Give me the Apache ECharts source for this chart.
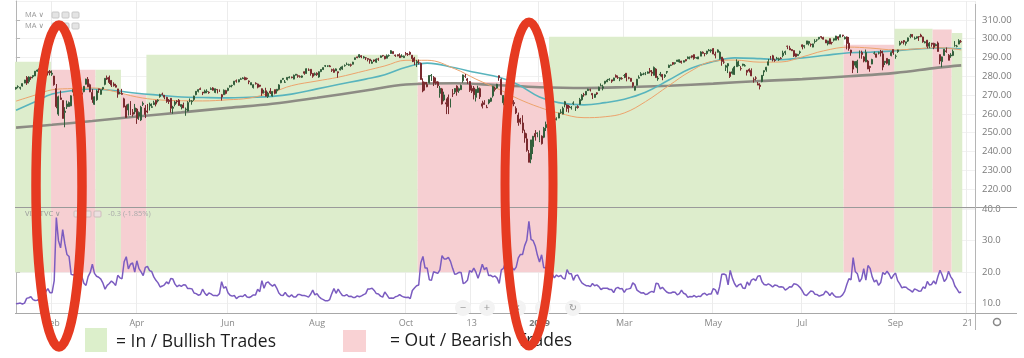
<!DOCTYPE html>
<html><head><meta charset="utf-8">
<script src="https://cdn.jsdelivr.net/npm/echarts@6/dist/echarts.min.js"></script>
<style>html,body{margin:0;padding:0;background:#fff}#c{width:1024px;height:358px}</style>
</head><body><div id="c"></div>
<script>
// ---------- calendar (trading days) ----------
const calendarStart = '2018-01-08', calendarEnd = '2019-10-24';
const holidays = ['2018-01-15','2018-02-19','2018-03-30','2018-05-28','2018-07-04','2018-09-03','2018-11-22','2018-12-05','2018-12-25','2019-01-01','2019-01-21','2019-02-18','2019-04-19','2019-05-27','2019-07-04','2019-09-02'];
function tradingDays(start, end, skip){
  const out=[]; const d=new Date(start+'T00:00:00Z'); const e=new Date(end+'T00:00:00Z');
  while(d<=e){ const wd=d.getUTCDay(); const s=d.toISOString().slice(0,10);
    if(wd!==0&&wd!==6&&skip.indexOf(s)<0) out.push(s);
    d.setUTCDate(d.getUTCDate()+1); }
  return out;
}
const categories = tradingDays(calendarStart, calendarEnd, holidays);

// ---------- tick labels ----------
const tickLabels = [['2018-02-01','Feb'],['2018-04-02','Apr'],['2018-06-01','Jun'],['2018-08-01','Aug'],['2018-10-01','Oct'],['2018-11-13','13'],['2019-01-02','2019'],['2019-03-01','Mar'],['2019-05-01','May'],['2019-07-01','Jul'],['2019-09-03','Sep'],['2019-10-21','21']];

// ---------- price candles [open, close, low, high] ----------
const candles2018 = [
[273.3,274.1,272.9,274.3],[274.4,274.5,273.6,275.2],[273.7,274.1,272.9,274.4],[274.8,276.1,274.5,276.2],[276.4,278.0,276.3,278.1],[279.4,276.4,275.4,280.1],[277.2,279.6,276.2,280.0],[279.5,279.1,278.1,279.8],[279.8,280.4,278.9,280.4],[280.2,282.7,280.1,282.7],[282.7,283.3,282.4,283.6],[284.0,283.2,281.3,284.7],[284.2,283.3,282.6,284.3],[284.3,286.6,283.9,286.6],[285.9,284.7,284.5,286.4],[282.6,281.8,280.4,283.0],[282.7,281.9,280.5,283.3],
[281.1,281.6,280.2,283.1],[280.1,275.5,275.0,280.2],[273.5,263.9,263.0,275.9],[259.9,269.1,259.0,269.7],[268.5,267.7,267.6,272.4],[267.1,257.6,257.6,267.2],[260.8,261.5,252.9,263.6],[263.8,265.3,262.6,267.1],[263.9,266.0,263.8,266.6],[264.3,269.6,264.1,269.9],[271.6,273.0,269.7,273.0],[272.3,273.1,272.3,275.3],[272.0,271.4,270.6,274.0],[271.9,270.1,270.0,275.0],[271.1,270.4,269.3,273.1],[271.8,274.7,271.5,274.7],[275.8,278.5,275.6,278.7],[278.4,274.4,274.4,279.6],[275.5,271.7,271.6,276.1],
[271.4,267.7,265.9,273.2],[265.1,269.1,264.8,269.3],[267.5,272.2,267.0,272.9],[273.3,272.9,271.2,273.4],[270.4,272.8,270.2,273.0],[273.3,274.1,272.6,274.2],[275.7,278.9,275.2,278.9],[279.2,278.5,278.0,280.4],[279.5,276.7,275.9,280.4],[277.8,275.3,274.3,278.0],[275.9,275.0,274.5,276.8],[275.1,274.2,274.1,276.0],[273.3,270.5,268.6,273.3],[270.9,270.9,270.4,271.7],[270.9,270.4,270.2,273.3],[268.0,263.7,263.4,268.6],[264.2,258.1,258.1,265.0],[262.1,265.1,259.1,265.4],[266.2,260.6,259.4,266.8],[260.8,259.8,258.6,262.6],[261.1,263.2,259.8,265.3],
[262.6,257.5,254.7,263.1],[258.9,260.8,256.8,261.3],[256.8,263.6,256.2,264.3],[265.1,265.6,264.2,266.6],[263.1,259.7,257.8,264.7],[261.6,261.0,260.3,265.3],[264.3,265.2,261.8,266.0],[263.5,263.8,263.2,265.6],[265.0,265.9,264.7,267.0],[267.1,265.2,264.0,267.4],[266.9,267.3,266.1,267.8],[269.2,270.2,268.6,270.7],[270.5,270.4,269.8,271.3],[269.9,268.9,267.8,270.0],[268.8,266.6,265.9,269.1],[267.3,266.6,265.3,267.9],[268.3,263.0,260.7,268.4],[263.0,263.6,260.1,264.3],[265.0,266.3,264.0,267.0],[266.8,266.6,265.5,267.3],[267.3,264.5,264.4,267.9],
[263.9,265.0,262.4,265.1],[264.8,263.2,263.1,266.0],[262.3,262.6,259.0,263.4],[261.5,266.0,261.3,266.8],[266.9,266.9,266.2,268.2],[266.5,266.9,264.9,267.4],[267.7,269.5,266.9,269.7],[270.2,272.0,269.9,272.1],[272.0,272.9,271.4,273.1],[273.4,273.0,272.7,274.0],[271.6,271.1,270.0,271.6],[271.1,272.2,271.0,272.9],[271.9,272.0,271.0,273.1],[271.5,271.3,270.7,272.0],[273.0,273.4,272.7,274.1],[273.8,272.6,272.4,274.2],[271.4,273.4,271.0,273.4],[273.0,272.8,270.9,273.0],[272.6,272.2,271.7,273.0],[270.2,269.0,267.1,270.6],[270.2,272.6,270.2,273.0],[272.4,270.9,270.4,272.8],
[272.4,273.6,272.0,273.9],[274.5,274.9,274.0,275.2],[275.0,275.1,274.1,275.5],[275.6,277.4,275.2,277.5],[277.6,277.4,276.6,278.3],[277.0,278.2,276.8,278.3],[278.4,278.6,278.1,279.2],[278.7,279.1,278.6,279.5],[279.3,278.1,278.0,279.8],[278.9,278.7,278.1,279.3],[277.5,277.1,275.8,277.8],[275.4,276.6,275.4,276.7],[274.0,275.5,273.5,275.7],[276.3,276.0,275.6,276.8],[275.9,274.2,273.6,276.1],[275.3,274.7,274.2,275.4],[273.4,271.0,269.6,273.5],[271.6,271.6,270.8,272.8],[272.3,269.4,269.3,273.9],[269.3,271.0,268.5,271.8],[272.1,271.3,270.6,273.7],
[269.5,271.9,269.2,272.0],[272.9,270.9,270.4,272.9],[272.2,273.1,270.8,273.2],[273.1,275.4,272.6,275.8],[276.6,277.9,276.3,277.9],[278.4,278.9,278.0,279.0],[276.8,276.9,276.5,278.0],[278.3,279.4,277.8,279.4],[279.2,279.6,278.9,280.0],[279.6,279.3,278.9,279.8],[278.5,280.5,278.4,280.9],[280.6,281.1,280.4,281.2],[280.3,280.0,279.2,281.0],[279.8,279.7,279.3,280.5],[279.5,280.2,279.1,280.4],[282.4,281.6,280.8,282.6],[281.5,284.0,281.3,284.2],[283.3,283.3,282.8,284.2],[283.7,281.4,280.3,283.8],[281.5,280.0,279.2,281.7],[280.8,281.3,280.4,282.0],
[281.6,280.9,280.2,282.1],[279.6,282.4,279.2,282.6],[282.5,283.6,282.2,283.7],[283.6,284.6,283.3,284.7],[285.4,285.6,284.9,286.0],[285.4,285.5,284.9,285.8],[285.5,285.1,284.9,286.0],[283.5,283.2,282.3,284.0],[283.4,282.1,281.9,284.2],[282.9,283.9,282.8,284.2],[282.4,281.8,279.2,282.5],[283.4,284.1,283.1,285.0],[283.8,285.1,283.4,285.6],[285.6,285.7,285.1,286.3],[286.3,286.3,285.9,287.3],[285.9,286.2,285.6,286.7],[286.1,285.8,285.1,286.7],[286.4,287.5,286.3,287.7],[288.9,289.8,288.7,289.9],[290.3,289.9,289.6,290.4],[290.2,291.5,289.7,291.7],[290.9,290.3,289.6,291.2],[289.8,290.3,289.4,290.8],
[289.8,289.8,288.6,290.2],[289.4,289.0,287.9,289.6],[289.1,288.2,286.7,289.1],[286.9,287.6,286.7,288.7],[288.7,288.1,287.6,288.8],[287.5,289.1,287.2,289.5],[289.2,289.1,288.2,289.8],[290.0,290.8,289.9,291.0],[291.1,290.9,290.4,291.3],[290.6,289.3,289.0,290.8],[289.6,290.9,289.5,291.6],[291.0,291.0,290.4,291.6],[292.1,293.6,292.0,293.9],[293.1,292.0,291.8,293.2],[291.3,291.0,290.3,291.5],[291.5,290.8,290.6,291.6],[290.9,289.9,289.7,292.2],[290.4,290.7,290.1,291.7],[289.9,290.7,289.8,291.0],
[292.1,291.7,291.0,292.9],[291.6,291.6,290.8,292.4],[292.7,291.7,291.2,293.2],[291.2,289.4,287.5,291.3],[289.7,287.8,285.9,290.3],[287.1,287.8,284.9,288.7],[287.4,287.4,286.3,288.9],[286.9,278.3,278.2,287.3],[277.1,272.2,271.5,278.9],[276.8,276.0,272.4,277.0],[275.6,274.4,274.2,277.0],[276.6,280.4,276.2,280.6],[280.2,280.5,277.5,281.2],[279.4,276.4,274.8,280.1],[277.1,276.3,275.5,279.3],[277.0,275.0,273.8,277.4],[270.9,273.6,268.6,274.9],[273.3,265.3,265.0,273.8],[267.4,270.1,266.7,271.8],[265.9,265.3,259.9,268.2],[268.8,263.9,259.9,270.3],[263.7,267.8,263.4,268.1],[270.7,270.6,269.0,273.2],
[271.6,273.5,270.6,273.7],[274.8,271.9,269.7,275.2],[272.4,273.4,271.2,274.0],[272.9,275.1,272.9,275.6],[277.6,280.7,276.6,280.9],[280.1,280.0,279.1,281.2],[278.6,277.8,276.0,279.1],[277.2,272.6,271.7,277.5],[273.5,272.1,271.1,275.2],[273.8,270.2,267.7,274.8],[268.8,273.0,266.6,273.3],[271.4,273.7,271.1,275.0],[273.4,269.1,267.9,274.0],[265.4,264.1,262.9,267.0],[265.9,265.0,265.0,267.3],[263.5,263.3,263.1,264.8],[265.8,267.5,265.1,267.8],[266.7,268.4,266.3,268.6],[269.6,274.6,268.7,274.9],[273.6,273.0,271.9,274.5],[273.8,275.7,273.4,276.0],
[280.3,279.3,277.6,280.4],[278.4,270.3,269.9,278.9],[265.9,269.8,264.6,270.0],[269.5,263.6,262.3,271.2],[263.4,264.1,260.0,265.2],[267.7,264.1,262.6,267.9],[267.0,265.4,265.1,269.0],[266.0,265.4,264.1,267.3],[262.9,260.5,259.9,264.0],[259.4,255.4,253.7,260.7],[257.2,255.6,254.5,257.9],[255.2,251.3,249.8,259.3],[249.9,247.2,244.7,251.6],[246.7,240.7,239.9,249.7],[239.0,234.3,234.3,240.8],[235.9,246.2,233.8,246.2],[242.6,248.1,238.7,248.3],[249.6,247.8,245.8,251.4],[249.6,249.9,247.6,250.2]
];
const candles2019 = [
[245.9,250.2,245.0,251.2],[248.2,244.2,243.7,248.6],[247.6,252.4,247.1,253.1],[252.7,254.4,250.9,255.9],[256.8,256.8,254.0,257.3],[257.6,258.0,256.5,258.9],[256.3,258.9,255.9,259.2],[257.7,259.0,257.3,259.0],[256.9,257.4,256.6,258.2],[257.8,260.4,257.7,260.6],[260.8,261.0,260.1,262.5],[259.9,263.0,259.8,263.9],[264.9,266.5,263.5,266.9],[264.8,262.9,261.1,265.1],[264.2,263.4,260.7,264.8],[263.2,263.6,262.3,264.2],[265.6,265.8,264.8,266.7],[263.4,263.8,261.6,263.8],[263.9,263.4,262.8,264.6],[265.1,267.6,264.9,268.5],[267.5,269.9,267.0,270.5],
[270.2,270.1,269.1,271.2],[270.1,272.0,269.9,272.0],[272.4,273.1,272.2,273.4],[272.8,272.7,271.9,273.4],[270.9,270.1,267.9,271.0],[268.8,270.5,268.5,270.6],[271.2,270.6,270.1,271.5],[272.4,274.1,272.4,274.5],[275.0,275.0,274.8,276.2],[273.7,274.4,272.5,275.5],[276.3,277.4,275.7,277.4],[277.1,277.9,276.9,278.6],[278.2,278.4,277.6,279.0],[278.1,277.4,276.5,278.1],[277.7,279.1,277.5,279.2],[280.4,279.5,279.4,281.0],[279.3,279.3,278.6,280.4],[278.5,279.2,277.4,279.4],[278.8,278.7,278.2,279.5],
[280.4,280.4,279.0,281.2],[281.6,279.4,277.3,281.6],[279.2,279.0,278.4,279.7],[278.9,277.3,277.2,279.1],[276.6,275.0,274.1,276.9],[272.6,274.5,272.4,274.6],[275.2,278.4,275.1,278.6],[279.0,279.4,278.9,280.5],[280.3,281.3,280.2,282.2],[281.0,281.2,280.6,281.9],[281.3,281.3,280.6,282.3],[281.6,282.3,281.3,282.6],[283.0,282.4,281.5,284.4],[282.2,281.6,280.1,283.3],[280.5,284.7,280.4,285.2],[283.8,279.3,279.2,284.3],[278.6,279.0,277.6,280.1],[280.7,281.1,279.9,282.3],[281.0,279.7,277.9,281.2],[279.9,280.7,279.1,281.1],[282.2,282.5,281.3,282.8],
[284.7,285.8,284.4,286.2],[285.8,286.0,285.4,286.2],[287.3,286.4,285.9,287.5],[286.8,287.2,286.2,287.4],[287.9,288.6,287.7,288.7],[287.6,288.8,287.2,288.9],[288.1,287.3,286.7,288.2],[287.5,288.3,287.4,288.4],[288.9,288.2,287.9,289.0],[289.4,290.2,289.1,290.5],[290.2,290.2,289.0,290.4],[290.9,290.2,289.6,291.0],[291.5,289.5,288.8,291.6],[289.8,290.0,289.3,290.1],[289.2,290.3,289.2,290.4],[290.7,292.9,290.7,293.3],[292.8,292.2,292.0,293.2],[292.1,292.1,290.6,292.3],[292.1,293.4,291.5,293.5],[293.5,293.9,293.3,294.5],[293.5,294.0,292.5,294.3],
[294.7,291.8,291.8,295.0],[291.7,291.2,289.5,293.1],[292.8,294.0,292.6,294.3],[289.3,292.8,288.9,293.3],[290.2,287.9,285.6,290.2],[287.5,287.5,286.6,289.4],[284.8,285.6,282.8,286.1],[285.5,286.7,281.7,287.0],[282.2,279.9,279.1,282.4],[281.6,282.4,280.9,284.2],[281.0,284.9,280.7,285.5],[285.1,287.7,285.0,289.0],[285.7,285.8,285.3,288.2],[284.1,284.0,283.0,285.4],[285.8,286.5,285.3,286.6],[285.5,285.6,285.2,286.5],[283.2,282.1,280.4,283.3],[283.7,282.8,282.0,284.2],[283.1,280.2,280.1,284.2],[278.3,278.3,276.6,279.4],[279.1,279.0,277.8,280.0],[276.0,275.3,275.3,277.0],
[275.3,274.6,273.0,276.3],[277.2,280.5,276.8,280.6],[282.3,283.0,280.2,283.0],[283.3,284.8,282.4,285.0],[285.9,287.7,285.8,289.2],[289.4,289.0,288.8,290.8],[290.9,288.9,287.9,291.4],[288.6,288.4,287.7,289.3],[289.4,289.6,288.9,290.3],[288.9,289.3,288.2,289.9],[289.6,289.4,289.0,290.2],[291.0,292.4,290.1,293.6],[292.5,293.1,291.4,293.6],[296.0,295.9,294.4,296.3],[294.9,294.0,294.0,296.2],[294.2,293.6,293.4,294.4],[293.7,290.8,290.3,293.7],[291.9,290.5,290.1,292.1],[291.0,291.6,290.9,291.9],[292.6,293.0,291.7,293.6],
[296.7,295.7,294.3,296.9],[295.8,296.4,294.8,296.5],[297.1,298.8,296.9,298.8],[297.5,298.5,296.4,298.8],[297.0,296.8,295.7,297.4],[295.5,297.2,295.4,297.3],[298.4,298.6,297.4,299.7],[299.3,299.3,298.4,299.6],[299.9,300.7,299.5,300.7],[301.1,300.8,300.0,301.1],[300.6,299.7,299.5,301.0],[299.3,297.7,297.7,299.4],[297.2,298.8,296.4,298.9],[300.0,297.2,297.1,300.1],[298.0,297.9,296.9,298.3],[299.2,300.0,298.5,300.0],[299.2,301.4,299.2,301.5],[301.0,300.0,299.1,301.2],[300.8,302.0,300.8,302.2],[301.9,301.5,300.9,302.0],[299.9,300.7,299.6,301.2],[300.9,297.4,294.3,301.2],
[297.6,294.8,293.6,300.9],[293.9,292.6,290.9,294.1],[288.1,283.8,281.7,288.2],[285.9,287.8,284.7,288.0],[284.4,288.0,281.7,288.8],[289.6,293.6,289.6,293.6],[292.6,291.6,289.3,293.6],[290.3,288.1,287.4,290.7],[287.7,292.6,287.5,294.2],[288.1,283.9,283.8,288.7],[285.2,284.7,282.4,285.6],[286.5,288.9,286.4,289.3],[292.2,292.3,291.5,293.1],[291.9,290.1,290.0,292.0],[292.3,292.5,291.6,293.1],[293.2,292.4,290.5,294.0],[291.9,284.9,283.2,293.6],[287.3,288.0,286.0,288.0],[289.5,286.9,286.4,289.6],[286.1,288.9,285.8,289.1],[291.0,292.6,290.6,293.2],[294.2,292.5,291.4,294.2],
[290.6,290.7,289.3,291.6],[293.1,294.0,292.4,294.1],[296.8,297.8,296.3,298.8],[298.2,298.1,297.4,298.8],[299.0,298.2,296.9,299.2],[297.5,298.3,296.3,298.3],[298.7,300.4,298.2,300.6],[301.3,301.3,300.2,302.5],[302.2,301.1,300.6,302.4],[299.8,300.2,299.5,301.1],[300.3,301.0,299.9,301.1],[301.1,301.0,298.8,301.3],[301.9,301.0,300.8,302.6],[300.9,298.3,297.8,301.1],[297.8,298.3,297.5,298.7],[299.2,295.9,294.8,299.3],[296.0,297.6,294.9,298.2],[297.6,297.0,295.7,297.7],[297.5,295.4,294.4,297.8],[296.2,296.8,296.0,297.4],
[297.7,293.2,293.1,298.5],[291.5,288.1,286.4,291.6],[287.8,290.3,284.8,290.5],[291.1,294.4,290.9,294.5],[293.5,293.1,292.5,295.3],[291.2,288.5,288.5,291.8],[290.8,291.3,289.8,292.3],[291.1,293.2,290.7,294.2],[296.3,296.3,295.7,298.7],[295.9,296.0,295.4,296.7],[297.1,298.9,297.0,299.7],[298.4,298.4,297.8,299.3]
];

// ---------- VIX closes ----------
const vix2018 = [
10.0,10.1,10.2,9.9,10.2,11.7,11.9,12.2,11.3,11.0,11.1,11.5,11.6,11.1,13.8,14.8,13.5,
13.5,17.3,37.3,29.98,27.7,33.5,29.1,25.6,24.97,19.3,19.1,19.5,20.6,20.0,18.7,16.5,15.8,18.6,19.9,
22.5,19.6,18.7,18.4,17.8,16.5,14.6,15.8,16.4,17.2,16.6,15.8,19.0,18.2,17.9,23.3,24.9,21.0,22.5,22.9,20.0,
23.6,21.1,20.1,18.9,21.5,21.8,20.5,20.2,18.5,17.4,16.6,15.3,15.6,16.0,16.9,16.3,18.0,17.8,16.2,15.4,15.9,
15.5,16.0,15.9,14.8,14.8,14.7,13.4,13.2,12.7,12.9,14.6,13.4,12.6,13.4,13.1,12.6,12.6,12.5,13.2,17.0,14.9,15.4,
13.5,12.7,12.4,12.6,11.6,12.2,12.4,12.3,12.9,12.1,11.98,12.3,12.8,12.8,14.6,13.8,17.3,14.9,16.6,16.9,16.1,
15.6,16.1,14.97,13.4,12.7,12.6,13.6,12.6,12.2,12.8,12.1,12.1,12.9,12.9,12.6,12.6,12.4,12.1,13.0,14.3,12.8,
13.2,12.2,11.6,11.3,10.9,10.9,11.3,13.2,14.8,13.3,14.6,13.5,12.6,12.5,12.9,12.3,12.4,12.0,11.99,12.5,12.2,12.5,12.9,
13.2,14.7,14.7,14.9,14.2,13.2,13.1,12.4,12.1,13.7,12.8,11.75,11.8,11.7,12.2,12.4,12.9,12.4,12.1,
12.0,12.05,11.6,14.2,15.0,15.7,15.95,22.96,24.98,21.3,21.3,17.6,17.4,20.1,19.9,19.6,20.7,25.2,24.2,24.2,24.7,23.4,21.2,
19.3,19.5,19.96,19.9,16.4,16.7,17.4,20.5,20.0,21.3,19.98,18.1,20.1,22.5,20.8,21.5,18.9,19.0,18.5,18.8,18.1,
16.4,20.7,21.2,23.2,22.6,21.8,21.5,20.7,21.6,24.5,25.6,25.6,28.4,30.1,36.1,30.4,29.96,28.3,25.4
];
const vix2019 = [
23.2,25.5,21.4,21.4,20.5,19.98,19.5,18.2,19.1,18.6,19.0,18.1,17.8,20.8,19.5,19.5,17.4,18.9,19.1,17.7,16.6,
16.1,15.7,15.7,15.4,16.4,15.7,15.97,15.4,14.5,14.9,14.9,14.9,14.5,14.5,13.5,14.85,15.2,14.7,14.8,
13.6,14.6,14.7,14.9,16.6,16.05,14.3,13.8,13.4,13.5,12.9,13.1,13.6,13.9,13.6,16.5,16.3,14.7,15.2,14.4,13.7,
13.4,13.4,13.7,13.6,12.8,13.2,14.3,13.3,13.0,12.0,12.3,12.2,12.6,12.1,12.4,12.3,13.1,13.3,12.7,13.1,13.1,
14.8,14.4,12.9,15.4,19.3,19.4,19.1,16.0,20.55,18.1,16.4,15.3,15.96,16.3,14.95,14.8,16.9,15.85,17.5,17.9,17.3,18.7,
18.9,16.97,16.1,15.9,16.3,15.9,15.3,15.9,15.8,15.3,15.35,15.2,14.3,14.75,15.4,15.3,16.3,16.2,15.8,15.1,
14.1,12.9,12.6,13.3,14.0,13.9,13.0,12.9,12.4,12.7,12.9,13.97,13.5,12.6,13.5,12.6,12.1,12.1,12.2,12.8,13.9,16.1,
17.9,17.6,24.6,20.2,19.5,16.9,17.97,21.1,17.5,22.1,21.2,18.5,16.9,17.5,15.8,16.7,19.9,19.3,20.3,19.35,17.9,18.98,
19.7,17.3,16.3,15.0,15.3,15.2,14.6,14.2,13.7,14.7,14.4,13.95,14.0,15.3,14.9,17.05,15.96,16.1,17.2,16.2,
18.6,20.6,19.1,17.0,17.9,20.3,18.6,17.6,15.6,14.6,13.5,13.7
];

// ---------- moving averages [date, value] ----------
const maFast = [['2018-01-08',266.8],['2018-01-22',270.0],['2018-02-01',272.8],['2018-02-15',273.5],['2018-03-01',273.8],['2018-03-15',272.0],['2018-04-02',269.0],['2018-04-16',267.5],['2018-05-01',267.0],['2018-05-15',266.9],['2018-06-01',267.5],['2018-06-15',268.4],['2018-07-02',271.5],['2018-07-16',275.0],['2018-08-01',277.5],['2018-08-15',279.5],['2018-09-04',283.0],['2018-09-17',285.5],['2018-10-01',288.5],['2018-10-15',288.5],['2018-11-01',284.0],['2018-11-15',278.5],['2018-12-03',273.0],['2018-12-17',268.0],['2019-01-02',263.5],['2019-01-15',260.5],['2019-02-01',258.0],['2019-02-15',258.5],['2019-03-01',260.5],['2019-03-15',266.5],['2019-04-01',275.0],['2019-04-15',282.5],['2019-05-01',288.0],['2019-05-15',288.6],['2019-06-03',287.5],['2019-06-17',287.6],['2019-07-01',290.3],['2019-07-16',293.5],['2019-08-01',295.5],['2019-08-15',295.0],['2019-09-03',294.0],['2019-09-16',294.5],['2019-10-01',295.2],['2019-10-16',294.0]];
const maMid = [['2018-01-08',262.0],['2018-01-22',266.5],['2018-02-01',270.6],['2018-02-15',272.4],['2018-03-01',273.2],['2018-03-15',272.4],['2018-04-02',271.0],['2018-04-16',270.0],['2018-05-01',269.0],['2018-05-15',268.7],['2018-06-01',268.5],['2018-06-15',268.8],['2018-07-02',269.3],['2018-07-16',270.5],['2018-08-01',273.3],['2018-08-15',275.6],['2018-09-04',278.5],['2018-09-17',280.8],['2018-10-01',284.8],['2018-10-15',287.0],['2018-11-01',284.5],['2018-11-15',282.0],['2018-12-03',279.5],['2018-12-17',275.5],['2019-01-02',269.0],['2019-01-15',266.0],['2019-02-01',264.8],['2019-02-15',266.0],['2019-03-01',267.8],['2019-03-15',271.5],['2019-04-01',278.0],['2019-04-15',284.0],['2019-05-01',287.8],['2019-05-15',289.8],['2019-06-03',289.4],['2019-06-17',288.8],['2019-07-01',289.8],['2019-07-16',291.0],['2019-08-01',292.5],['2019-08-15',292.8],['2019-09-03',293.6],['2019-09-16',294.4],['2019-10-01',295.0],['2019-10-16',294.6]];
const maSlow = [['2018-01-08',252.7],['2018-02-01',254.2],['2018-03-01',256.2],['2018-04-02',258.6],['2018-05-01',260.8],['2018-06-01',263.2],['2018-07-02',265.4],['2018-08-01',268.6],['2018-09-04',272.4],['2018-10-01',275.6],['2018-11-01',276.3],['2018-12-03',275.2],['2019-01-02',274.2],['2019-02-01',273.8],['2019-03-01',274.2],['2019-04-01',275.0],['2019-05-01',276.1],['2019-06-03',277.5],['2019-07-01',278.5],['2019-08-01',280.0],['2019-09-03',281.8],['2019-10-01',284.6],['2019-10-16',285.8]];

// ---------- trade regions (in = bullish, out = bearish), top = upper price edge ----------
const regions = [
 {from:'2018-01-08', to:'2018-01-31', kind:'in',  top:287.7},
 {from:'2018-02-01', to:'2018-03-02', kind:'out', top:283.4},
 {from:'2018-03-05', to:'2018-03-20', kind:'in',  top:283.4},
 {from:'2018-03-21', to:'2018-04-06', kind:'out', top:270.5},
 {from:'2018-04-09', to:'2018-10-08', kind:'in',  top:291.4},
 {from:'2018-10-09', to:'2019-01-08', kind:'out', top:277.0},
 {from:'2019-01-09', to:'2019-07-29', kind:'in',  top:301.0},
 {from:'2019-07-30', to:'2019-08-30', kind:'out', top:296.7},
 {from:'2019-09-03', to:'2019-09-26', kind:'in',  top:305.2},
 {from:'2019-09-27', to:'2019-10-09', kind:'out', top:304.8},
 {from:'2019-10-10', to:'2019-10-16', kind:'in',  top:303.0}
];
const vixRegionBase = 20;

// ---------- build ----------
const PRICE_MIN = 210, PRICE_MAX = 320, VIX_MIN = 7.06, VIX_MAX = 40.63;
const GREEN = '#ddedcc', PINK = '#f6cfd2', UP = '#335f3c', DOWN = '#7a2a2e';
const N = categories.length;
const labelMap = {}; tickLabels.forEach(t => labelMap[t[0]] = t[1]);
const isTick = (i, v) => labelMap[v] !== undefined;
const ix = d => categories.indexOf(d);
const candles = candles2018.concat(candles2019);
const vix = vix2018.concat(vix2019);
const colorOf = r => r.kind === 'in' ? GREEN : PINK;
const mainAreas = regions.map(r => [{xAxis: ix(r.from) - 0.5, yAxis: r.top, itemStyle: {color: colorOf(r)}}, {xAxis: ix(r.to) + 0.5, yAxis: PRICE_MIN}]);
const vixAreas = regions.map(r => [{xAxis: ix(r.from) - 0.5, yAxis: VIX_MAX, itemStyle: {color: colorOf(r)}}, {xAxis: ix(r.to) + 0.5, yAxis: vixRegionBase}]);

const FONT = '"Open Sans", "DejaVu Sans", sans-serif';
const chart = echarts.init(document.getElementById('c'), null, {renderer: 'canvas'});
const catAxis = (gi, showLabels) => ({
  type: 'category', gridIndex: gi, data: categories, boundaryGap: true,
  axisLine: {show: false}, axisTick: {show: false},
  axisLabel: {show: showLabels, interval: isTick, margin: 6, color: '#888', fontSize: 9, fontFamily: FONT,
    formatter: v => labelMap[v] === '2019' ? '{b|2019}' : (labelMap[v] || ''),
    rich: {b: {fontWeight: 'bold', color: '#777', fontSize: 9, fontFamily: FONT}}},
  splitLine: {show: true, interval: isTick, lineStyle: {color: '#ececec', width: 1}}
});
const hiddenVal = gi => ({type: 'value', gridIndex: gi, min: -0.5, max: N - 0.5, show: false, position: 'top', splitLine: {show: false}});

chart.setOption({
  animation: false,
  backgroundColor: '#fff',
  grid: [
    {left: 15, right: 49, top: 1, height: 207},
    {left: 15, right: 49, top: 207, height: 106}
  ],
  xAxis: [catAxis(0, false), catAxis(1, true), hiddenVal(0), hiddenVal(1)],
  yAxis: [
    {type: 'value', gridIndex: 0, position: 'right', min: PRICE_MIN, max: PRICE_MAX, interval: 10,
     axisLine: {show: true, lineStyle: {color: '#b5b5b5'}}, axisTick: {show: true, length: 4, lineStyle: {color: '#b5b5b5'}},
     axisLabel: {color: '#7a7a7a', fontSize: 9.5, fontFamily: FONT, margin: 7, showMinLabel: false, showMaxLabel: false, formatter: v => v.toFixed(2)},
     splitLine: {show: true, lineStyle: {color: '#f1f1f1'}}},
    {type: 'value', gridIndex: 1, position: 'right', min: VIX_MIN, max: VIX_MAX, splitNumber: 3,
     axisLine: {show: true, lineStyle: {color: '#b5b5b5'}}, axisTick: {show: true, length: 4, lineStyle: {color: '#b5b5b5'}},
     axisLabel: {color: '#7a7a7a', fontSize: 9.5, fontFamily: FONT, margin: 7, showMinLabel: false, showMaxLabel: false, formatter: v => v.toFixed(1)},
     splitLine: {show: true, lineStyle: {color: '#f1f1f1'}}}
  ],
  series: [
    {type: 'line', xAxisIndex: 2, yAxisIndex: 0, data: [], silent: true, z: 1,
     markArea: {silent: true, data: mainAreas}},
    {type: 'line', xAxisIndex: 3, yAxisIndex: 1, data: [], silent: true, z: 1,
     markArea: {silent: true, data: vixAreas}},
    {type: 'line', xAxisIndex: 0, yAxisIndex: 0, data: maSlow, smooth: 0.4, showSymbol: false, z: 3,
     lineStyle: {color: '#8d8c84', width: 2.6}},
    {type: 'line', xAxisIndex: 0, yAxisIndex: 0, data: maMid, smooth: 0.4, showSymbol: false, z: 3,
     lineStyle: {color: '#58b4bd', width: 1.6}},
    {type: 'line', xAxisIndex: 0, yAxisIndex: 0, data: maFast, smooth: 0.4, showSymbol: false, z: 3,
     lineStyle: {color: '#eda36c', width: 1}},
    {type: 'candlestick', xAxisIndex: 0, yAxisIndex: 0, data: candles, barWidth: '70%', z: 5,
     itemStyle: {color: UP, color0: DOWN, borderColor: UP, borderColor0: DOWN, borderWidth: 1}},
    {type: 'line', xAxisIndex: 1, yAxisIndex: 1, data: vix, showSymbol: false, z: 5,
     lineStyle: {color: '#7b5cc0', width: 1.5}}
  ],
  graphic: [
    // panel frame
    {type: 'line', shape: {x1: 15, y1: 207.5, x2: 1017, y2: 207.5}, style: {stroke: '#9a9a9a', lineWidth: 1}, z: 6},
    {type: 'line', shape: {x1: 15, y1: 313.5, x2: 1017, y2: 313.5}, style: {stroke: '#a8a8a8', lineWidth: 1}, z: 6},
    {type: 'line', shape: {x1: 975.5, y1: 4, x2: 975.5, y2: 330}, style: {stroke: '#b5b5b5', lineWidth: 1}, z: 6},
    // indicator captions
    {type: 'text', x: 25, y: 15, style: {text: 'MA ∨', fill: '#999', font: '7.5px ' + FONT, verticalAlign: 'middle'}, z: 7},
    {type: 'text', x: 25, y: 26, style: {text: 'MA ∨', fill: '#999', font: '7.5px ' + FONT, verticalAlign: 'middle'}, z: 7},
    {type: 'rect', shape: {x: 52, y: 12, width: 7, height: 6, r: 1}, style: {fill: '#e4e4e4', stroke: '#c8c8c8'}, z: 7},
    {type: 'rect', shape: {x: 62, y: 12, width: 7, height: 6, r: 1}, style: {fill: '#e4e4e4', stroke: '#c8c8c8'}, z: 7},
    {type: 'rect', shape: {x: 72, y: 12, width: 7, height: 6, r: 1}, style: {fill: '#e4e4e4', stroke: '#c8c8c8'}, z: 7},
    {type: 'rect', shape: {x: 52, y: 23, width: 7, height: 6, r: 1}, style: {fill: '#e4e4e4', stroke: '#c8c8c8'}, z: 7},
    {type: 'rect', shape: {x: 62, y: 23, width: 7, height: 6, r: 1}, style: {fill: '#e4e4e4', stroke: '#c8c8c8'}, z: 7},
    {type: 'rect', shape: {x: 72, y: 23, width: 7, height: 6, r: 1}, style: {fill: '#e4e4e4', stroke: '#c8c8c8'}, z: 7},
    {type: 'text', x: 25, y: 214, style: {text: 'VIX, TVC ∨', fill: '#999', font: '7.5px ' + FONT, verticalAlign: 'middle'}, z: 7},
    {type: 'rect', shape: {x: 74, y: 211, width: 7, height: 6, r: 1}, style: {fill: '#ebe0e0', stroke: '#cdbcbc'}, z: 7},
    {type: 'rect', shape: {x: 84, y: 211, width: 7, height: 6, r: 1}, style: {fill: '#ebe0e0', stroke: '#cdbcbc'}, z: 7},
    {type: 'rect', shape: {x: 94, y: 211, width: 7, height: 6, r: 1}, style: {fill: '#ebe0e0', stroke: '#cdbcbc'}, z: 7},
    {type: 'text', x: 108, y: 214, style: {text: '-0.3 (-1.85%)', fill: '#aaa', font: '7.5px ' + FONT, verticalAlign: 'middle'}, z: 7},
    // navigation buttons
    {type: 'circle', shape: {cx: 463, cy: 308, r: 8}, style: {fill: '#f3f3f3'}, z: 7},
    {type: 'circle', shape: {cx: 487, cy: 308, r: 8}, style: {fill: '#f3f3f3'}, z: 7},
    {type: 'circle', shape: {cx: 518, cy: 308, r: 8}, style: {fill: '#f3f3f3'}, z: 7},
    {type: 'circle', shape: {cx: 543, cy: 308, r: 8}, style: {fill: '#f3f3f3'}, z: 7},
    {type: 'circle', shape: {cx: 573, cy: 308, r: 8}, style: {fill: '#f3f3f3'}, z: 7},
    {type: 'text', x: 463, y: 308, style: {text: '−', fill: '#999', font: '11px ' + FONT, align: 'center', verticalAlign: 'middle'}, z: 8},
    {type: 'text', x: 487, y: 308, style: {text: '+', fill: '#999', font: '11px ' + FONT, align: 'center', verticalAlign: 'middle'}, z: 8},
    {type: 'text', x: 518, y: 308, style: {text: '‹', fill: '#999', font: '12px ' + FONT, align: 'center', verticalAlign: 'middle'}, z: 8},
    {type: 'text', x: 543, y: 308, style: {text: '›', fill: '#999', font: '12px ' + FONT, align: 'center', verticalAlign: 'middle'}, z: 8},
    {type: 'text', x: 573, y: 308, style: {text: '↻', fill: '#999', font: '10px "DejaVu Sans"', align: 'center', verticalAlign: 'middle'}, z: 8},
    // settings icon
    {type: 'circle', shape: {cx: 997, cy: 322, r: 3.5}, style: {fill: 'none', stroke: '#888', lineWidth: 1.5}, z: 7},
    // legend
    {type: 'rect', shape: {x: 85, y: 328, width: 22, height: 24}, style: {fill: '#dcefcb'}, z: 7},
    {type: 'text', x: 116, y: 342, style: {text: '= In / Bullish Trades', fill: '#1e1e1e', font: '17.5px ' + FONT, verticalAlign: 'middle'}, z: 7},
    {type: 'rect', shape: {x: 343, y: 330, width: 23, height: 22}, style: {fill: '#f9d2d4'}, z: 7},
    {type: 'text', x: 390, y: 341, style: {text: '= Out / Bearish Trades', fill: '#1e1e1e', font: '17.5px ' + FONT, verticalAlign: 'middle'}, z: 7},
    // red ellipses
    {type: 'ellipse', shape: {cx: 59, cy: 186, rx: 23, ry: 161}, style: {fill: 'none', stroke: '#e63a21', lineWidth: 9.5}, z: 100},
    {type: 'ellipse', shape: {cx: 529, cy: 184, rx: 24, ry: 162}, style: {fill: 'none', stroke: '#e63a21', lineWidth: 9}, z: 100}
  ]
});
</script>
</body></html>
